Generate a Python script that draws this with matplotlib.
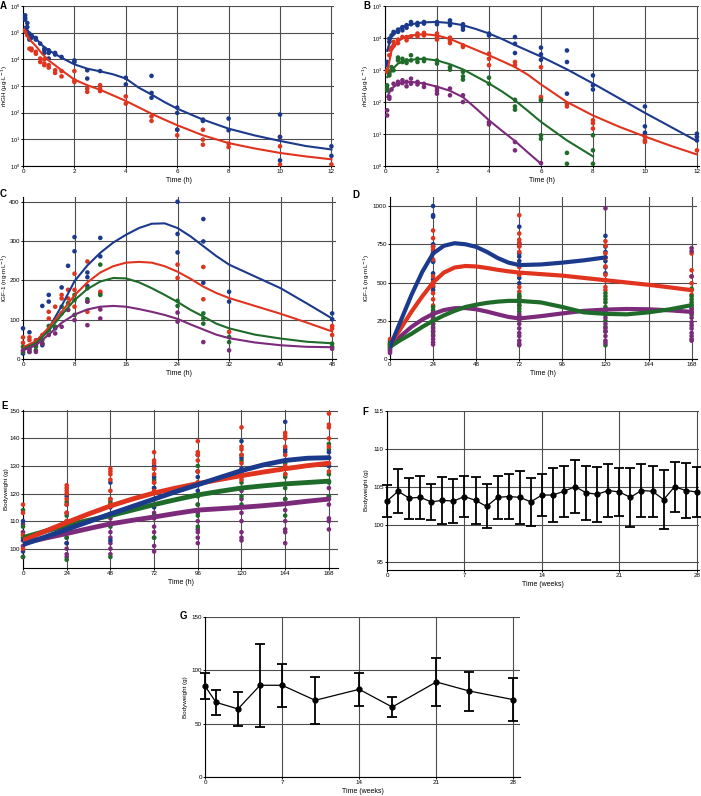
import numpy as np
import matplotlib
matplotlib.use('Agg')
from matplotlib import pyplot as plt
from matplotlib.ticker import LogLocator, NullLocator

plt.rcParams['font.family'] = ['Liberation Sans', 'DejaVu Sans']

BLUE = '#1c3a8c'
RED = '#e0341f'
GREEN = '#1f6b2a'
PURPLE = '#7c2a7a'

# ---- panel A: rhGH iv (log10 values) ----
a_blue_pts = {0.083: [5.65, 5.56, 5.49], 0.167: [5.36, 5.21], 0.25: [4.96, 4.74], 0.33: [4.9, 4.81],
              0.5: [4.8, 4.74], 0.67: [4.59], 0.83: [4.4, 4.34, 4.24], 1: [4.34, 4.24, 4.03],
              1.25: [4.24, 4.18], 1.5: [4.09], 2: [3.96, 3.9], 2.5: [3.59, 3.28], 3: [3.56],
              4: [3.31, 3.06], 5: [3.38, 2.74, 2.56], 6: [2.19, 1.99, 1.36], 7: [1.74, 1.69],
              8: [1.78, 1.34], 10: [1.93, 1.09, 0.21], 12: [0.74, 0.38]}
a_red_pts = {0.083: [5.11, 5.06], 0.167: [4.96, 4.9], 0.25: [4.78, 4.4], 0.33: [4.4, 4.34],
             0.5: [4.28, 4.21], 0.67: [4.03, 3.9], 0.83: [4.0, 3.84, 3.78], 1: [3.78, 3.69],
             1.25: [3.59, 3.49], 1.5: [3.56, 3.36], 2: [3.56, 3.21, 3.15], 2.5: [2.9, 2.78],
             3: [3.03, 2.9, 2.81], 4: [2.61, 2.34], 5: [1.86, 1.69], 6: [1.36, 1.15],
             7: [1.36, 0.99, 0.8], 8: [0.84, 0.71], 10: [1.09, 0.74, 0.06], 12: [0.06]}
ab_fit_t = [0.083, 0.25, 0.5, 0.75, 1, 1.5, 2, 2.5, 3, 3.5, 4, 4.5, 5, 5.5, 6, 7, 8, 9, 10, 11, 12]
a_blue_fit = [5.22, 5.0, 4.78, 4.52, 4.34, 4.06, 3.81, 3.65, 3.55, 3.44, 3.28, 2.94, 2.68, 2.4,
              2.15, 1.74, 1.4, 1.15, 0.94, 0.75, 0.62]
a_red_fit = [5.05, 4.75, 4.5, 4.2, 3.96, 3.59, 3.24, 3.03, 2.86, 2.65, 2.44, 2.2, 1.96, 1.74,
             1.53, 1.15, 0.86, 0.66, 0.49, 0.36, 0.25]

# ---- panel B: rhGH sc (log10 values) ----
b_blue_pts = {0.083: [3.25, 3.15, 2.99], 0.167: [3.98, 3.88], 0.25: [4.08], 0.33: [4.19, 4.14],
              0.5: [4.26, 4.19], 0.67: [4.34, 4.24], 0.83: [4.4, 4.32], 1: [4.5, 4.43],
              1.25: [4.47, 4.4], 1.5: [4.5, 4.45], 2: [4.5, 4.43], 2.5: [4.55, 4.47, 4.4],
              3: [4.43, 4.34, 4.26], 4: [4.14, 4.08], 5: [4.03, 3.82, 3.53], 6: [3.7, 3.49, 3.32],
              7: [3.61, 3.25, 2.26], 8: [2.83, 2.52, 2.39], 10: [1.86, 1.24, 1.04], 12: [1.01, 0.91, 0.8]}
b_red_pts = {0.083: [2.99, 2.94], 0.167: [3.64, 3.46], 0.25: [3.7], 0.33: [3.88, 3.77],
             0.5: [3.95, 3.84], 0.67: [4.03], 0.83: [4.03, 3.93], 1: [4.05], 1.25: [4.14, 4.05],
             1.5: [4.16, 4.08], 2: [4.14, 4.03, 3.95], 2.5: [4.01, 3.93, 3.84], 3: [3.77, 3.72],
             4: [3.51, 3.35, 3.15], 5: [3.25, 3.15], 6: [3.09, 2.16, 2.1], 7: [1.95, 1.86],
             8: [1.43, 1.34, 1.17], 10: [0.91, 0.8, 0.75], 12: [0.49]}
b_green_pts = {0.083: [2.52, 2.42, 2.36], 0.167: [2.89, 2.83], 0.25: [3.09, 2.99], 0.33: [2.99],
               0.5: [3.39, 3.3], 0.67: [3.35, 3.25], 0.83: [3.3, 3.22], 1: [3.46, 3.3],
               1.25: [3.35, 3.25], 1.5: [3.35, 3.28], 2: [3.3, 3.2], 2.5: [3.09, 3.01],
               3: [2.94, 2.8, 2.7], 4: [2.76, 2.57], 5: [2.07, 1.86, 1.76], 6: [2.05, 0.96, 0.85],
               7: [0.41, 0.07], 8: [0.96, 0.49, 0.07]}
b_purple_pts = {0.083: [1.74, 1.58], 0.167: [2.16, 2.1], 0.25: [2.39], 0.33: [2.57],
                0.5: [2.63, 2.55], 0.67: [2.68, 2.59], 0.83: [2.63, 2.49], 1: [2.73, 2.57],
                1.25: [2.63, 2.55], 1.5: [2.57, 2.47], 2: [2.45, 2.36, 2.26], 2.5: [2.42, 2.21],
                3: [2.21, 2.0], 4: [1.37, 1.3], 5: [0.75, 0.49], 6: [0.09]}
b_blue_fit = [3.6, 4.05, 4.27, 4.37, 4.43, 4.49, 4.5, 4.47, 4.4, 4.28, 4.14, 3.97, 3.78, 3.6,
              3.42, 3.02, 2.58, 2.12, 1.66, 1.22, 0.78]
b_red_fit = [2.94, 3.6, 3.9, 4.02, 4.08, 4.12, 4.08, 3.97, 3.8, 3.63, 3.46, 3.28, 3.09, 2.85,
             2.55, 2.0, 1.58, 1.23, 0.92, 0.63, 0.36]
b_green_fit = [2.78, 3.0, 3.2, 3.28, 3.32, 3.35, 3.3, 3.18, 3.02, 2.8, 2.58, 2.33, 2.05, 1.72,
               1.38, 0.8, 0.3]
b_purple_fit = [2.16, 2.42, 2.57, 2.62, 2.63, 2.58, 2.48, 2.35, 2.15, 1.8, 1.43, 1.1, 0.78, 0.42, 0.07]

# ---- panel C: IGF-1 after single dose ----
c_blue_pts = {0: [78, 14], 1: [68], 2: [35], 3: [135, 35], 4: [163, 146], 5: [78], 6: [182],
              7: [237], 8: [310, 274], 10: [220, 208, 186], 12: [308, 261], 24: [400, 318, 271],
              28: [356, 299, 194], 32: [171, 146], 48: [116, 101]}
c_red_pts = {0: [55, 41], 1: [55, 48], 2: [48, 41], 3: [61], 4: [120, 103], 5: [133],
             6: [163, 154], 7: [176, 154], 8: [217, 176, 133], 10: [248, 120], 12: [171, 167],
             24: [240, 206], 28: [234, 152], 32: [69], 48: [84, 78, 61]}
c_green_pts = {0: [31, 18], 1: [26, 18], 2: [31, 22], 3: [48, 39], 4: [84, 73], 5: [99, 82],
               6: [133, 116], 7: [142, 125], 8: [163, 150, 112], 10: [180, 152, 146],
               12: [240, 163], 24: [148, 135], 28: [116, 103, 90], 32: [56, 43], 48: [39, 31]}
c_purple_pts = {0: [22], 1: [24, 18], 2: [18], 3: [39], 4: [61], 5: [65], 6: [82], 7: [125],
                8: [99], 10: [86, 146], 12: [126, 103], 24: [118, 95], 28: [43], 32: [22], 48: [26]}
c_fit_t = [0, 2, 4, 6, 8, 10, 12, 14, 16, 18, 20, 22, 24, 26, 28, 30, 32, 36, 40, 44, 48]
c_blue_fit = [25, 45, 78, 135, 198, 238, 270, 296, 316, 333, 344, 345, 333, 312, 287, 262, 240,
              210, 180, 142, 103]
c_red_fit = [30, 45, 80, 120, 162, 195, 220, 236, 245, 247, 245, 236, 222, 204, 184, 168, 155,
             135, 115, 93, 70]
c_green_fit = [25, 40, 72, 112, 150, 178, 197, 206, 205, 195, 180, 163, 145, 125, 108, 90, 78,
               62, 52, 44, 40]
c_purple_fit = [22, 35, 62, 92, 113, 126, 133, 135, 133, 127, 120, 112, 102, 88, 75, 62, 53,
                42, 35, 31, 30]

# ---- panel D: IGF-1 repeated dosing ----
d_blue_pts = {0: [75, 95, 115], 24: [1000, 940, 930, 750, 735, 700, 640, 635, 560, 520, 470, 450],
              72: [865, 755, 740, 690, 670, 640, 615, 560, 530, 495],
              120: [805, 735, 700, 665, 640, 600, 560]}
d_red_pts = {0: [130, 100, 85], 24: [840, 790, 735, 715, 690, 650, 540, 500, 480, 430, 390, 350, 300],
             72: [940, 820, 780, 760, 735, 700, 600, 550, 470, 440, 410, 385, 350],
             120: [770, 740, 690, 660, 605, 550, 515, 470, 450], 168: [690, 580, 540, 495, 450, 420]}
d_green_pts = {0: [100, 80, 65], 24: [340, 320, 300, 280, 260, 230, 210, 180, 160],
               72: [420, 405, 390, 370, 350, 330, 310, 280, 260],
               120: [430, 410, 390, 370, 340, 320, 290, 250, 210, 180, 90],
               168: [460, 410, 390, 370, 350, 330, 310, 290]}
d_purple_pts = {0: [60, 50, 40], 24: [300, 260, 230, 200, 180, 150, 130, 110, 95],
                72: [290, 260, 230, 200, 170, 150, 120, 100, 90],
                120: [985, 310, 270, 230, 200, 180, 150, 120, 105],
                168: [725, 705, 540, 330, 300, 270, 240, 220, 200, 170, 150, 130, 120]}
d_fit_t = [0, 6, 12, 18, 24, 30, 36, 42, 48, 54, 60, 66, 72, 84, 96, 108, 120, 132, 144, 156, 168]
d_blue_fit = [80, 250, 420, 570, 690, 740, 757, 750, 733, 700, 660, 630, 614, 618, 630, 645, 664]
d_red_fit = [90, 200, 310, 410, 500, 565, 598, 608, 605, 595, 583, 573, 565, 555, 545, 530, 515,
             500, 485, 468, 450]
d_green_fit = [80, 125, 165, 210, 250, 285, 315, 340, 355, 367, 375, 380, 380, 370, 340, 305, 295,
               292, 305, 325, 352]
d_purple_fit = [75, 150, 210, 258, 295, 320, 332, 333, 325, 310, 292, 275, 265, 280, 298, 315,
                323, 327, 325, 318, 308]

# ---- panel E: bodyweight ----
e_red_pts = {0: [116, 113, 105, 100], 24: [123, 122, 121, 120, 118, 116, 113, 110],
             48: [129, 128, 127, 125, 121, 118, 116], 72: [135, 132, 131, 129, 127, 124, 121, 118],
             96: [139, 135, 134, 132, 128, 124], 120: [144, 137, 136, 134, 131, 128, 125],
             144: [142, 141, 140, 137, 134, 130, 127], 168: [149, 145, 144, 140, 137, 133, 128]}
e_blue_pts = {0: [110, 103, 99], 24: [119, 116, 113, 106, 102], 48: [124, 115, 112, 103],
              72: [130, 126, 122, 115], 96: [134, 128, 126, 121], 120: [139, 133, 129, 126],
              144: [146, 136, 135, 132], 168: [135, 133, 130]}
e_green_pts = {0: [114, 108, 104, 97], 24: [117, 112, 108, 104, 96], 48: [118, 117, 116, 112, 108, 97],
               72: [129, 125, 124, 122, 118, 112, 104], 96: [130, 128, 124, 119, 116, 112, 108],
               120: [134, 132, 128, 124, 119, 116], 144: [131, 127, 126, 122, 118, 112],
               168: [138, 136, 130, 127, 124, 119]}
e_purple_pts = {0: [109, 106, 101, 97], 24: [110, 106, 104, 102, 100, 98, 97],
                48: [111, 109, 106, 104, 102, 100, 98], 72: [113, 111, 108, 106, 104, 101, 99],
                96: [116, 113, 110, 107, 106, 104, 102], 120: [121, 118, 113, 110, 106, 104, 103],
                144: [118, 114, 110, 107, 106, 102], 168: [122, 119, 116, 111, 110, 107]}
e_fit_t = [0, 12, 24, 36, 48, 60, 72, 84, 96, 108, 120, 132, 144, 156, 168]
e_blue_fit = [101.5, 104.2, 107, 109.8, 112.6, 115.3, 118, 120.7, 123.2, 125.8, 128.3, 130.4, 132, 132.8, 133]
e_red_fit = [103, 106.3, 109.5, 112.6, 115.5, 118, 120.2, 122, 123.6, 125.1, 126.5, 127.8, 129, 130.1, 131]
e_green_fit = [104, 106.3, 108.5, 110.3, 112, 114, 116, 117.8, 119.5, 120.8, 122, 122.8, 123.5, 124, 124.5]
e_purple_fit = [102, 103.8, 105.5, 107.3, 109, 110.3, 111.5, 112.8, 114, 114.5, 115, 115.6, 116.3, 117.2, 118]

# ---- panel F: weekly bodyweight ----
f_weeks = list(range(29))
f_mean = [103.1, 104.4, 103.5, 103.6, 103.0, 103.2, 103.1, 103.7, 103.2, 102.4, 103.6, 103.7, 103.6,
          103.0, 103.9, 103.9, 104.4, 105.0, 104.2, 104.0, 104.5, 104.3, 103.6, 104.5, 104.4, 103.3,
          105.0, 104.5, 104.3]
f_sd = [2.1, 2.9, 2.7, 2.8, 2.4, 3.1, 2.9, 2.7, 3.1, 2.9, 2.8, 3.0, 3.5, 3.2, 2.8, 3.6, 3.4, 3.5,
        3.6, 3.6, 3.5, 3.2, 3.9, 3.5, 3.4, 3.9, 3.3, 3.6, 3.3]

# ---- panel G ----
g_weeks = [0, 1, 3, 5, 7, 10, 14, 17, 21, 24, 28]
g_mean = [85.3, 70, 63.8, 86, 86, 71.9, 82.2, 65.6, 89.1, 80.6, 72.5]
g_sd = [12.5, 11.5, 15.6, 39, 20, 22, 15.6, 9, 22.3, 18.3, 20.3]

W, H = 701, 796
fig = plt.figure(figsize=(W / 100, H / 100), dpi=100)


def rect(l, t, r, b):
    return [l / W, 1 - b / H, (r - l) / W, (b - t) / H]


def style(ax, xlab, ylab, ylab_x, ysize=4.5):
    ax.spines['top'].set_visible(False)
    ax.spines['right'].set_visible(False)
    ax.spines['left'].set_linewidth(0.8)
    ax.spines['bottom'].set_linewidth(0.8)
    ax.grid(True, color='#4d4d4d', lw=0.8)
    ax.set_axisbelow(True)
    ax.tick_params(labelsize=4.5, length=1.5, width=0.7, pad=0.8)
    ax.tick_params(axis='y', labelsize=ysize)
    ax.set_xlabel(xlab, fontsize=5, labelpad=2)
    ax.set_ylabel(ylab, fontsize=4.5)
    # ylab_x = pixel column of the label's right edge, as in the reference
    l, b, w, h = ax.get_position().bounds
    ax.yaxis.set_label_coords((ylab_x / W - l) / w, 0.5)


def dots(ax, pts, color, log=False):
    for t, vals in pts.items():
        v = np.array(vals, dtype=float)
        if log:
            v = 10 ** v
        ax.scatter([t] * len(v), v, s=11, color=color, edgecolors='none', zorder=3, clip_on=False)


def letter(x, y, s):
    fig.text(x / W, 1 - y / H, s, fontsize=7, fontweight='bold', ha='left', va='center')


rhgh_lab = 'rhGH (\u00b5g\u00b7L$^{-1}$)'
igf_lab = 'IGF-1 (ng\u00b7mL$^{-1}$)'

# A
ax = fig.add_axes(rect(23, 6, 334, 166))
dots(ax, a_red_pts, RED, log=True)
dots(ax, a_blue_pts, BLUE, log=True)
ax.plot(ab_fit_t, 10 ** np.array(a_red_fit), color=RED, lw=1.5, zorder=4)
ax.plot(ab_fit_t, 10 ** np.array(a_blue_fit), color=BLUE, lw=1.5, zorder=4)
ax.set_yscale('log')
ax.set_ylim(1, 1e6)
ax.set_xlim(0, 12.1)
ax.set_xticks(range(0, 13, 2))
ax.yaxis.set_major_locator(LogLocator(base=10, numticks=10))
ax.yaxis.set_minor_locator(NullLocator())
style(ax, 'Time (h)', rhgh_lab, 10, ysize=4)
letter(0, 6, 'A')

# B
ax = fig.add_axes(rect(385, 6, 699, 166))
for pts, col in [(b_blue_pts, BLUE), (b_red_pts, RED), (b_green_pts, GREEN), (b_purple_pts, PURPLE)]:
    dots(ax, pts, col, log=True)
for fit, col in [(b_blue_fit, BLUE), (b_red_fit, RED), (b_green_fit, GREEN), (b_purple_fit, PURPLE)]:
    ax.plot(ab_fit_t[:len(fit)], 10 ** np.array(fit), color=col, lw=1.5, zorder=4)
ax.set_yscale('log')
ax.set_ylim(1, 1e5)
ax.set_xlim(0, 12.08)
ax.set_xticks(range(0, 13, 2))
ax.yaxis.set_major_locator(LogLocator(base=10, numticks=10))
ax.yaxis.set_minor_locator(NullLocator())
style(ax, 'Time (h)', rhgh_lab, 371, ysize=4)
letter(363, 6, 'B')

# C
ax = fig.add_axes(rect(23, 197, 336, 359))
for pts, col in [(c_blue_pts, BLUE), (c_red_pts, RED), (c_green_pts, GREEN), (c_purple_pts, PURPLE)]:
    dots(ax, pts, col)
for fit, col in [(c_blue_fit, BLUE), (c_red_fit, RED), (c_green_fit, GREEN), (c_purple_fit, PURPLE)]:
    ax.plot(c_fit_t, fit, color=col, lw=1.5, zorder=4)
ax.set_ylim(0, 412)
ax.set_xlim(0, 48.6)
ax.set_xticks(range(0, 49, 8))
ax.set_yticks([0, 100, 200, 300, 400])
style(ax, 'Time (h)', igf_lab, 10)
letter(0, 194, 'C')

# D
ax = fig.add_axes(rect(390, 197, 697, 359))
for pts, col in [(d_blue_pts, BLUE), (d_red_pts, RED), (d_green_pts, GREEN), (d_purple_pts, PURPLE)]:
    dots(ax, pts, col)
for fit, col in [(d_purple_fit, PURPLE), (d_green_fit, GREEN), (d_red_fit, RED), (d_blue_fit, BLUE)]:
    ax.plot(d_fit_t[:len(fit)], fit, color=col, lw=3, zorder=4, solid_capstyle='round')
ax.set_ylim(0, 1059)
ax.set_xlim(0, 171)
ax.set_xticks(range(0, 169, 24))
ax.set_yticks([0, 250, 500, 750, 1000])
style(ax, 'Time (h)', igf_lab, 372)
letter(352, 195, 'D')

# E
ax = fig.add_axes(rect(23, 410, 338, 568))
for pts, col in [(e_purple_pts, PURPLE), (e_green_pts, GREEN), (e_blue_pts, BLUE), (e_red_pts, RED)]:
    dots(ax, pts, col)
for fit, col in [(e_purple_fit, PURPLE), (e_green_fit, GREEN), (e_red_fit, RED), (e_blue_fit, BLUE)]:
    ax.plot(e_fit_t, fit, color=col, lw=3.5, zorder=4, solid_capstyle='round')
ax.set_ylim(93, 150.3)
ax.set_xlim(0, 173)
ax.set_xticks(range(0, 169, 24))
ax.set_yticks(range(100, 151, 10))
style(ax, 'Time (h)', 'Bodyweight (g)', 9)
letter(1, 406, 'E')

# F
ax = fig.add_axes(rect(387, 411, 699, 570))
ax.errorbar(f_weeks, f_mean, yerr=f_sd, color='black', lw=0.9, elinewidth=1.3, capsize=3.5,
            capthick=1.3, marker='o', ms=3.5, zorder=4, clip_on=False)
ax.set_ylim(94, 115)
ax.set_xlim(0, 28.2)
ax.set_xticks([0, 7, 14, 21, 28])
ax.set_yticks([95, 100, 105, 110, 115])
style(ax, 'Time (weeks)', 'Bodyweight (g)', 369)
letter(362, 412, 'F')

# G
ax = fig.add_axes(rect(205, 617, 520, 777))
ax.errorbar(g_weeks, g_mean, yerr=g_sd, color='black', lw=0.9, elinewidth=1.3, capsize=3.5,
            capthick=1.3, marker='o', ms=3.5, zorder=4, clip_on=False)
ax.set_ylim(0, 150)
ax.set_xlim(0, 28.6)
ax.set_xticks([0, 7, 14, 21, 28])
ax.set_yticks([0, 50, 100, 150])
style(ax, 'Time (weeks)', 'Bodyweight (g)', 188)
letter(180, 616, 'G')

fig.savefig('out.png', dpi=100)
